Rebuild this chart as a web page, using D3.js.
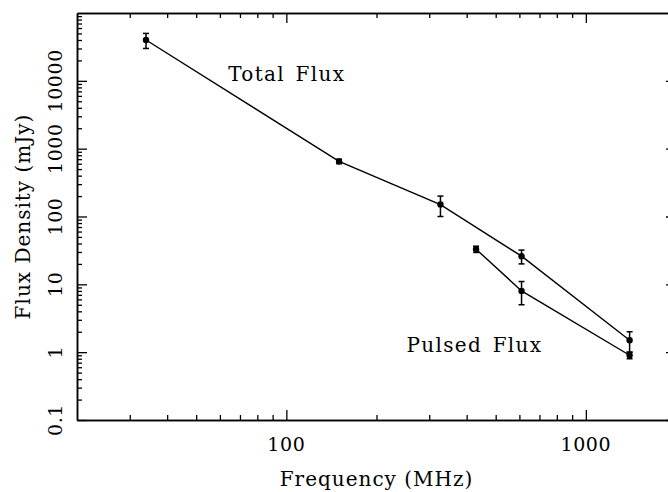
<!DOCTYPE html>
<html>
<head>
<meta charset="utf-8">
<style>
  body { margin: 0; background: #fff; }
  svg { display: block; }
  text { font-family: "DejaVu Serif", serif; fill: #000; }
</style>
</head>
<body>
<svg width="668" height="492"></svg>
<script src="https://d3js.org/d3.v7.min.js"></script>
<script>
// data
var totalFreq = [34, 150, 327, 610, 1400];
var totalFlux = [40000, 650, 150, 26, 1.5];
var totalErr = [10000, 50, 50, 6, 0.5];

var pulsedFreq = [430, 610, 1400];
var pulsedFlux = [33, 8, 0.9];
var pulsedErr = [3.5, 3, 0.1];

var xMajor = [100, 1000];
var yMajor = [0.1, 1, 10, 100, 1000, 10000];
var yLabels = ["0.1", "1", "10", "100", "1000", "10000"];

var svg = d3.select("svg"),
    mLeft = 77, mRight = 676, mTop = 13, mBottom = 420;

var x = d3.scaleLog().domain([20, 2000]).range([mLeft, mRight]);
var y = d3.scaleLog().domain([0.1, 100000]).range([mBottom, mTop]);

// minor tick values (2..9 per decade)
var xMinor = [], yMinor = [];
[10, 100, 1000].forEach(function(d) {
  for (var k = 2; k <= 9; k++) if (d * k > 20 && d * k < 2000) xMinor.push(d * k);
});
[0.1, 1, 10, 100, 1000, 10000].forEach(function(d) {
  for (var k = 2; k <= 9; k++) yMinor.push(d * k);
});

function styleAxis(g) {
  g.select(".domain").attr("stroke", "#000").attr("stroke-width", 1.5);
  g.selectAll(".tick line").attr("stroke", "#000").attr("stroke-width", 1.3);
  g.selectAll(".tick text").remove();
}

// bottom
svg.append("g").attr("transform", "translate(0," + mBottom + ")")
  .call(d3.axisBottom(x).tickValues(xMinor).tickSizeInner(-5).tickSizeOuter(0)).call(styleAxis);
svg.append("g").attr("transform", "translate(0," + mBottom + ")")
  .call(d3.axisBottom(x).tickValues(xMajor).tickSizeInner(-10).tickSizeOuter(0)).call(styleAxis);
// top
svg.append("g").attr("transform", "translate(0," + mTop + ")")
  .call(d3.axisTop(x).tickValues(xMinor).tickSizeInner(-5).tickSizeOuter(0)).call(styleAxis);
svg.append("g").attr("transform", "translate(0," + mTop + ")")
  .call(d3.axisTop(x).tickValues(xMajor).tickSizeInner(-10).tickSizeOuter(0)).call(styleAxis);
// left
svg.append("g").attr("transform", "translate(" + mLeft + ",0)")
  .call(d3.axisLeft(y).tickValues(yMinor).tickSizeInner(-5).tickSizeOuter(0)).call(styleAxis);
svg.append("g").attr("transform", "translate(" + mLeft + ",0)")
  .call(d3.axisLeft(y).tickValues(yMajor).tickSizeInner(-10).tickSizeOuter(0)).call(styleAxis);
// right
svg.append("g").attr("transform", "translate(" + mRight + ",0)")
  .call(d3.axisRight(y).tickValues(yMinor).tickSizeInner(-5).tickSizeOuter(0)).call(styleAxis);
svg.append("g").attr("transform", "translate(" + mRight + ",0)")
  .call(d3.axisRight(y).tickValues(yMajor).tickSizeInner(-10).tickSizeOuter(0)).call(styleAxis);

// tick labels
svg.selectAll(".xlab").data(xMajor).enter().append("text")
  .attr("x", function(d) { return x(d); })
  .attr("y", 451)
  .attr("text-anchor", "middle")
  .style("font-size", "19px")
  .style("letter-spacing", "0.6px")
  .text(function(d) { return d; });

svg.selectAll(".ylab").data(yMajor).enter().append("text")
  .attr("transform", function(d) { return "translate(62," + y(d) + ") rotate(-90)"; })
  .attr("text-anchor", "middle")
  .style("font-size", "19px")
  .style("letter-spacing", "0.6px")
  .text(function(d, i) { return yLabels[i]; });

// axis titles
svg.append("text")
  .attr("x", (mLeft + mRight) / 2)
  .attr("y", 486)
  .attr("text-anchor", "middle")
  .style("font-size", "20px")
  .style("letter-spacing", "1px")
  .text("Frequency (MHz)");

svg.append("text")
  .attr("transform", "translate(30," + (mTop + mBottom) / 2 + ") rotate(-90)")
  .attr("text-anchor", "middle")
  .style("font-size", "20px")
  .style("letter-spacing", "1px")
  .text("Flux Density (mJy)");

function drawSeries(freq, flux, err) {
  var pts = freq.map(function(f, i) { return {f: f, v: flux[i], e: err[i]}; });
  var line = d3.line()
    .x(function(d) { return x(d.f); })
    .y(function(d) { return y(d.v); });
  svg.append("path").datum(pts)
    .attr("fill", "none")
    .attr("stroke", "#000")
    .attr("stroke-width", 1.4)
    .attr("d", line);

  var eb = svg.append("g").attr("stroke", "#000").attr("stroke-width", 1.5);
  pts.forEach(function(d) {
    var y0 = y(d.v + d.e), y1 = y(d.v - d.e), cx = x(d.f);
    eb.append("line").attr("x1", cx).attr("x2", cx).attr("y1", y0).attr("y2", y1);
    eb.append("line").attr("x1", cx - 3).attr("x2", cx + 3).attr("y1", y0).attr("y2", y0);
    eb.append("line").attr("x1", cx - 3).attr("x2", cx + 3).attr("y1", y1).attr("y2", y1);
  });

  svg.append("g").selectAll("circle").data(pts).enter().append("circle")
    .attr("cx", function(d) { return x(d.f); })
    .attr("cy", function(d) { return y(d.v); })
    .attr("r", 3.2)
    .attr("fill", "#000");
}

drawSeries(totalFreq, totalFlux, totalErr);
drawSeries(pulsedFreq, pulsedFlux, pulsedErr);

// series annotations
svg.append("text")
  .attr("x", x(64)).attr("y", y(10000))
  .style("font-size", "20px")
  .style("letter-spacing", "1.3px")
  .style("word-spacing", "3px")
  .text("Total Flux");

svg.append("text")
  .attr("x", x(252)).attr("y", y(1))
  .style("font-size", "20px")
  .style("letter-spacing", "1.3px")
  .style("word-spacing", "3px")
  .text("Pulsed Flux");
</script>
</body>
</html>
